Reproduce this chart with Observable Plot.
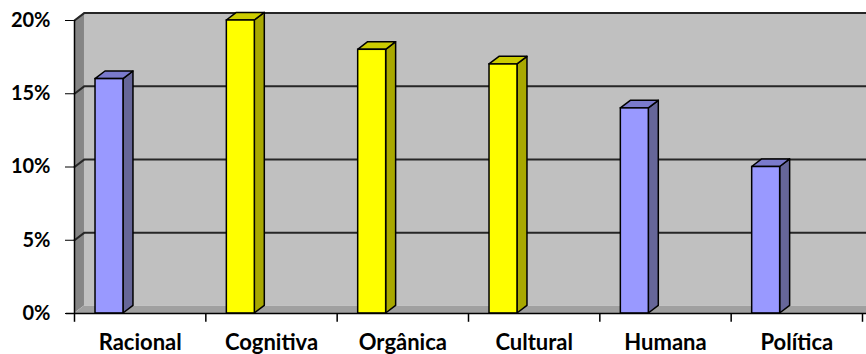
<!DOCTYPE html>
<html>
<head>
<meta charset="utf-8">
<script src="https://cdn.jsdelivr.net/npm/d3@7"></script>
<script src="https://cdn.jsdelivr.net/npm/@observablehq/plot@0.6"></script>
<style>
  html, body { margin: 0; padding: 0; background: #fff; overflow: hidden; }
  #chart { width: 866px; height: 354px; }
  #chart [aria-label^="x-axis"] { font-size: 22px; }
</style>
</head>
<body>
<div id="chart"></div>
<script>
// Share of each dimension, in percent
const categories = ["Racional", "Cognitiva", "Orgânica", "Cultural", "Humana", "Política"];
const values = [16, 20, 18, 17, 14, 10];
const groups = ["A", "B", "B", "B", "A", "A"];
const yTicks = [0, 5, 10, 15, 20];

// Pseudo-3D geometry, expressed in data units
const depthX = 0.076;   // receding offset along x (category units)
const depthY = 0.52;    // receding offset along y (percent units)
const barStart = 0.16;  // front face left edge within a category slot
const barEnd = 0.373;   // front face right edge within a category slot
const yMax = 20;
const n = categories.length;

const palette = {
  A: {front: "#9999ff", side: "#666699", top: "#7a7acc"},
  B: {front: "#ffff00", side: "#a8a800", top: "#cccc00"}
};

const bars = categories.map((name, i) => ({
  name, i, value: values[i], group: groups[i],
  xl: i + barStart, xr: i + barEnd
}));

const sides = bars.flatMap(b => [
  {k: b.i, group: b.group, x: b.xr, y1: 0, y2: b.value},
  {k: b.i, group: b.group, x: b.xr + depthX, y1: depthY, y2: b.value + depthY}
]);

const tops = bars.flatMap(b => [
  {k: b.i, group: b.group, x: b.xl, y1: b.value, y2: b.value},
  {k: b.i, group: b.group, x: b.xl + depthX, y1: b.value, y2: b.value + depthY},
  {k: b.i, group: b.group, x: b.xr, y1: b.value, y2: b.value + depthY},
  {k: b.i, group: b.group, x: b.xr + depthX, y1: b.value + depthY, y2: b.value + depthY}
]);

// Walls and floor of the plot box
const sideWall = [
  {x: 0, y1: 0, y2: yMax},
  {x: depthX, y1: depthY, y2: yMax + depthY}
];
const floor = [
  {x: 0, y1: 0, y2: 0},
  {x: depthX, y1: 0, y2: depthY},
  {x: n + 0.2, y1: 0, y2: depthY}
];
const backWall = [{x1: depthX, x2: n + 0.2, y1: depthY, y2: yMax + depthY}];

// Gridlines run diagonally across the side wall, then flat along the back wall
const grid = yTicks.filter(t => t > 0).flatMap(t => [
  {t, x: 0, y: t},
  {t, x: depthX, y: t + depthY},
  {t, x: n + 0.2, y: t + depthY}
]);

const chart = Plot.plot({
  width: 866,
  height: 354,
  marginLeft: 74,
  marginRight: 4,
  marginTop: 20,
  marginBottom: 41,
  style: {
    fontFamily: "Lato, 'Open Sans', sans-serif",
    fontWeight: "bold",
    fontSize: "20px",
    color: "#000",
    background: "#fff",
    overflow: "hidden"
  },
  x: {
    domain: [0, n],
    ticks: bars.map(b => b.i + 0.5),
    tickFormat: d => categories[Math.floor(d)],
    tickSize: 0,
    tickPadding: 21,
    label: null
  },
  y: {
    domain: [0, yMax],
    ticks: yTicks,
    tickFormat: d => d + "%",
    tickSize: 9,
    tickPadding: 15,
    label: null
  },
  marks: [
    Plot.rect(backWall, {x1: "x1", x2: "x2", y1: "y1", y2: "y2", fill: "#c0c0c0"}),
    Plot.areaY(sideWall, {x: "x", y1: "y1", y2: "y2", fill: "#858585"}),
    Plot.areaY(floor, {x: "x", y1: "y1", y2: "y2", fill: "#a0a0a0"}),
    Plot.line(grid, {x: "x", y: "y", z: "t", stroke: "#262626", strokeWidth: 2}),
    // bars: side face, top face, then front face
    Plot.areaY(sides, {x: "x", y1: "y1", y2: "y2", z: "k",
      fill: d => palette[d.group].side, stroke: "#000", strokeWidth: 1.5, strokeLinejoin: "round"}),
    Plot.areaY(tops, {x: "x", y1: "y1", y2: "y2", z: "k",
      fill: d => palette[d.group].top, stroke: "#000", strokeWidth: 1.5, strokeLinejoin: "round"}),
    Plot.rect(bars, {x1: "xl", x2: "xr", y1: 0, y2: "value",
      fill: d => palette[d.group].front, stroke: "#000", strokeWidth: 1.5}),
    // front axis lines and category boundary ticks
    Plot.ruleX([0], {y1: 0, y2: yMax, stroke: "#000", strokeWidth: 1.5}),
    Plot.ruleY([0], {x1: -0.062, x2: n + 0.2, stroke: "#000", strokeWidth: 1.5}),
    Plot.ruleX(d3.range(n + 1), {y1: 0, y2: -0.6, stroke: "#000", strokeWidth: 1.5})
  ]
});

document.getElementById("chart").appendChild(chart);
</script>
</body>
</html>
